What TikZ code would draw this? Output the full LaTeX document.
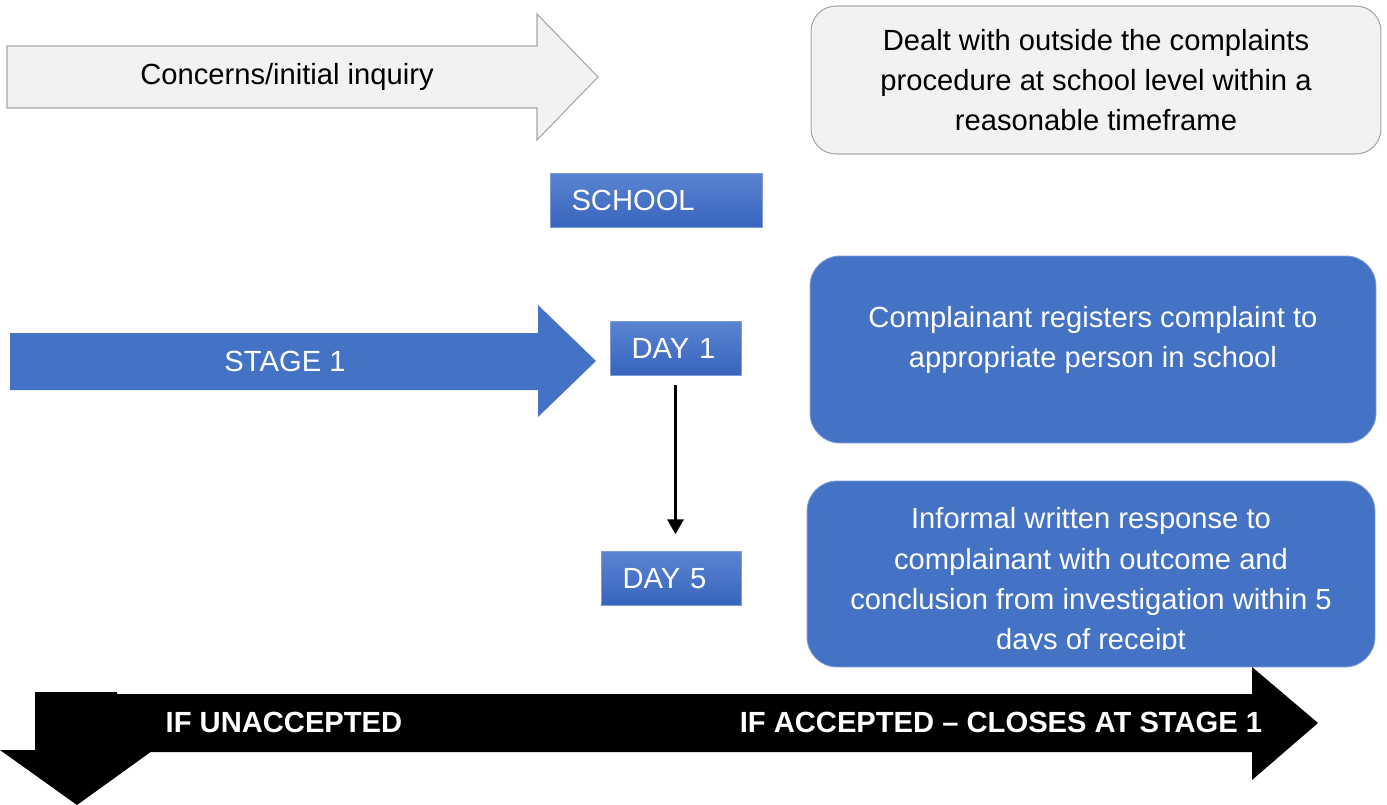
\documentclass[tikz,border=0pt]{standalone}
\usepackage{fontspec}
\setmainfont{Liberation Sans}
\usetikzlibrary{arrows.meta,positioning}

\definecolor{boxblue}{HTML}{4472C4}
\definecolor{boxtop}{HTML}{5B84D1}
\definecolor{boxbot}{HTML}{3764BD}
\definecolor{boxgray}{HTML}{F2F2F2}
\definecolor{linegray}{HTML}{A6A6A6}

\begin{document}
\begin{tikzpicture}[x=0.02cm, y=-0.02cm, node distance=3.52cm,
  every node/.style={font=\fontsize{16.6}{22.8}\selectfont},
  daybox/.style={draw=boxblue!70!white, top color=boxtop, bottom color=boxbot, text=white, minimum height=1.08cm, inner ysep=0pt, inner xsep=0.43cm, align=left},
  bluebox/.style={fill=boxblue, draw=boxblue!70!white, line width=0.5pt, rounded corners=0.6cm, inner sep=0pt},
  graybox/.style={fill=boxgray, draw=linegray, line width=0.6pt, rounded corners=0.5cm, inner sep=0pt, align=center},
  boxtext/.style={text=white, align=center},
  bartext/.style={text=white, font=\bfseries\fontsize{16.6}{22.8}\selectfont}]
  \useasboundingbox (0,0) rectangle (1387,805);

  % Concerns arrow
  \draw[fill=boxgray, draw=linegray, line width=0.6pt] (7,46) -- (537,46) -- (537,14) -- (598,77) -- (537,140) -- (537,108) -- (7,108) -- cycle;
  \node (concerns) at (287,77) {Concerns/initial inquiry};

  % Outside the procedure
  \node[graybox, minimum width=11.4cm, minimum height=2.96cm] (outside) at (1096,80) {Dealt with outside the complaints\\procedure at school level within a\\reasonable timeframe};

  % School
  \node[daybox, text width=3.38cm] (school) at (656,200) {SCHOOL};

  % Stage 1 arrow
  \fill[boxblue] (10,333) -- (538,333) -- (538,305) -- (596,361) -- (538,417) -- (538,390) -- (10,390) -- cycle;
  \node[text=white] (stage) at (285,361) {STAGE 1};

  % Days
  \node[daybox, text width=1.76cm] (day1) at (675.5,348) {DAY 1};
  \node[daybox, text width=1.94cm, below=of day1, xshift=-0.09cm] (day5) {DAY 5};
  \draw[line width=1.7pt, -{Triangle[length=0.3cm, width=0.32cm]}, shorten <=0.2cm, shorten >=0.34cm] (day1.south) -- (day1.south |- day5.north);

  % Stage 1 boxes
  \node[bluebox, minimum width=11.32cm, minimum height=3.74cm] (register) at (1093,349.5) {};
  \node[boxtext] (reg_text) at ([yshift=0.2cm]register.center) {Complainant registers complaint to\\appropriate person in school};

  \node[bluebox, minimum width=11.36cm, minimum height=3.72cm] (response) at (1091,574) {};
  \begin{scope}
    \clip (807,481) rectangle (1375,649);
    \node[boxtext] (resp_text) at ([yshift=-0.15cm]response.center) {Informal written response to\\complainant with outcome and\\conclusion from investigation within 5\\days of receipt};
  \end{scope}

  % Outcome bar
  \fill (35,692) -- (117,692) -- (117,750) -- (152,751) -- (77,805) -- (0,750) -- (35,750) -- cycle;
  \fill (117,694) -- (1252,694) -- (1252,667) -- (1318,723) -- (1252,780) -- (1252,752) -- (117,752) -- cycle;
  \node[bartext] (unaccepted) at (284,722) {IF UNACCEPTED};
  \node[bartext] (accepted) at (1001,722) {IF ACCEPTED – CLOSES AT STAGE 1};

\end{tikzpicture}
\end{document}
